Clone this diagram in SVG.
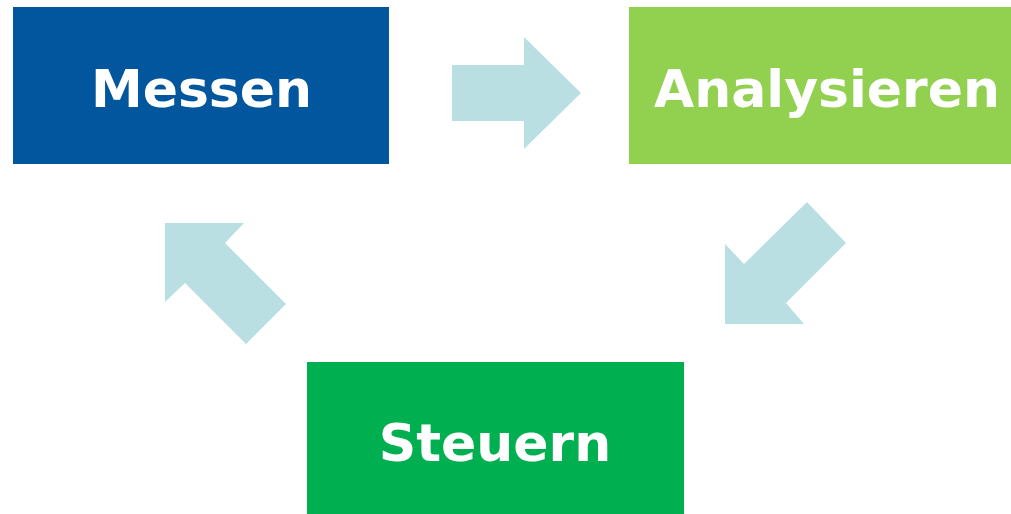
<svg xmlns="http://www.w3.org/2000/svg" width="1011" height="514" viewBox="0 0 1011 514">
<style>
.lbl{font-family:"DejaVu Sans",Verdana,sans-serif;font-weight:bold;font-size:52px;fill:#FFFFFF;text-anchor:middle}
.arr{fill:#BADFE3}
</style>
<rect width="1011" height="514" fill="#FFFFFF"/>
<g id="connectors">
<polygon class="arr" points="452,65 524,65 524,37 581,93 524,149 524,121 452,121"/>
<polygon class="arr" points="807,202 846,243 786,303 804,324 725,324 725,244 744,264"/>
<polygon class="arr" points="165,223 244,223 225,243 286,304 246,344 185,283 165,302"/>
</g>
<g id="messen">
<rect x="13" y="7" width="376" height="157" fill="#02569E"/>
<text class="lbl" x="201.5" y="107">Messen</text>
</g>
<g id="analysieren">
<rect x="629" y="7" width="382" height="157" fill="#92D050"/>
<text class="lbl" x="827" y="107">Analysieren</text>
</g>
<g id="steuern">
<rect x="307" y="362" width="377" height="152" fill="#00B050"/>
<text class="lbl" x="495" y="461">Steuern</text>
</g>
</svg>
